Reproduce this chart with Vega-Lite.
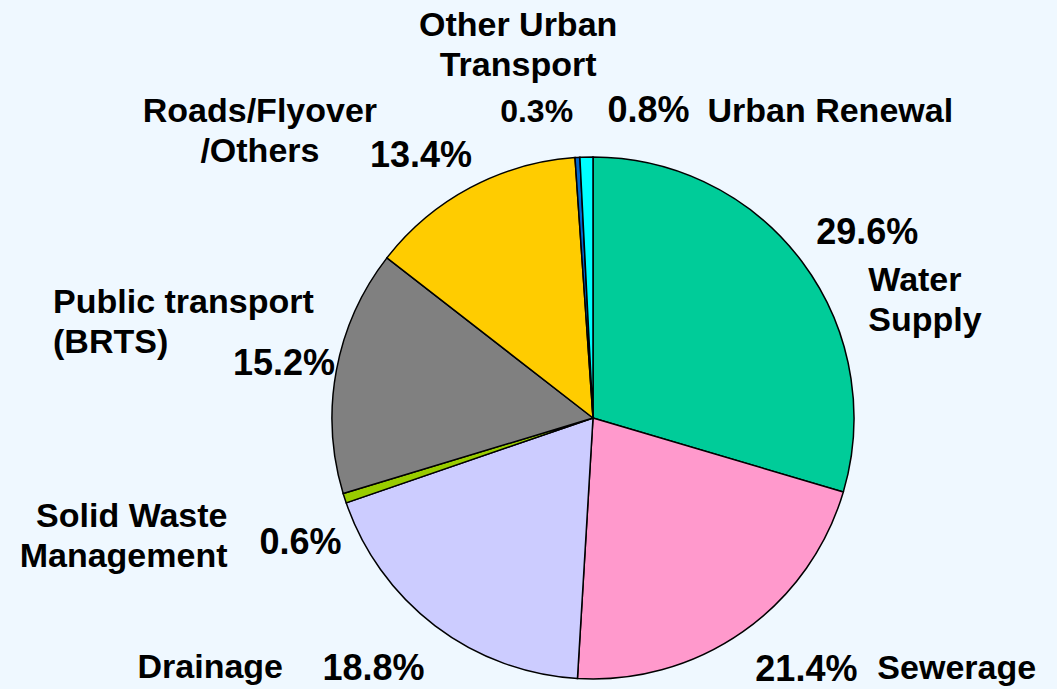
{
  "$schema": "https://vega.github.io/schema/vega-lite/v6.json",
  "width": 1186,
  "height": 836,
  "autosize": {"type": "none"},
  "padding": {"left": 0, "top": 0, "right": -129, "bottom": -147},
  "data": {
    "values": [
      {"idx": 1, "cat": "Water Supply", "value": 29.6, "pct": "29.6%", "name": "Water\nSupply"},
      {"idx": 2, "cat": "Sewerage", "value": 21.4, "pct": "21.4%", "name": "Sewerage"},
      {"idx": 3, "cat": "Drainage", "value": 18.8, "pct": "18.8%", "name": "Drainage"},
      {"idx": 4, "cat": "Solid Waste Management", "value": 0.6, "pct": "0.6%", "name": "Solid Waste\nManagement"},
      {"idx": 5, "cat": "Public transport (BRTS)", "value": 15.2, "pct": "15.2%", "name": "Public transport\n(BRTS)"},
      {"idx": 6, "cat": "Roads/Flyover/Others", "value": 13.4, "pct": "13.4%", "name": "Roads/Flyover\n/Others"},
      {"idx": 7, "cat": "Other Urban Transport", "value": 0.3, "pct": "0.3%", "name": "Other Urban\nTransport"},
      {"idx": 8, "cat": "Urban Renewal", "value": 0.8, "pct": "0.8%", "name": "Urban Renewal"}
    ]
  },
  "encoding": {
    "theta": {"field": "value", "type": "quantitative", "stack": true},
    "order": {"field": "idx", "type": "quantitative"}
  },
  "layer": [
    {
      "mark": {"type": "arc", "radius": 261, "stroke": "#000000", "strokeWidth": 1.5},
      "encoding": {
        "color": {
          "field": "cat", "type": "nominal", "legend": null,
          "scale": {
            "domain": ["Water Supply", "Sewerage", "Drainage", "Solid Waste Management", "Public transport (BRTS)", "Roads/Flyover/Others", "Other Urban Transport", "Urban Renewal"],
            "range": ["#00CC99", "#FF99CC", "#CCCCFF", "#99CC00", "#808080", "#FFCC00", "#0066CC", "#00FFFF"]
          }
        }
      }
    },
    {"mark": {"type": "text", "radius": 300, "align": "left", "dx": -17, "dy": 6, "fontSize": 36},
     "encoding": {"detail": {"field": "cat"}, "text": {"condition": {"test": "datum.idx == 1", "field": "pct"}, "value": ""}}},
    {"mark": {"type": "text", "radius": 300, "align": "left", "dx": -10, "dy": 17, "fontSize": 36},
     "encoding": {"detail": {"field": "cat"}, "text": {"condition": {"test": "datum.idx == 2", "field": "pct"}, "value": ""}}},
    {"mark": {"type": "text", "radius": 300, "align": "left", "dx": -89, "dy": 23, "fontSize": 36},
     "encoding": {"detail": {"field": "cat"}, "text": {"condition": {"test": "datum.idx == 3", "field": "pct"}, "value": ""}}},
    {"mark": {"type": "text", "radius": 300, "align": "left", "dx": -48, "dy": 44, "fontSize": 36},
     "encoding": {"detail": {"field": "cat"}, "text": {"condition": {"test": "datum.idx == 4", "field": "pct"}, "value": ""}}},
    {"mark": {"type": "text", "radius": 300, "align": "left", "dx": -65, "dy": 12, "fontSize": 36},
     "encoding": {"detail": {"field": "cat"}, "text": {"condition": {"test": "datum.idx == 5", "field": "pct"}, "value": ""}}},
    {"mark": {"type": "text", "radius": 300, "align": "left", "dx": -82, "dy": 14, "fontSize": 36},
     "encoding": {"detail": {"field": "cat"}, "text": {"condition": {"test": "datum.idx == 6", "field": "pct"}, "value": ""}}},
    {"mark": {"type": "text", "radius": 300, "align": "right", "dx": -2, "dy": 3, "fontSize": 32},
     "encoding": {"detail": {"field": "cat"}, "text": {"condition": {"test": "datum.idx == 7", "field": "pct"}, "value": ""}}},
    {"mark": {"type": "text", "radius": 300, "align": "left", "dx": 22, "dy": 4, "fontSize": 36},
     "encoding": {"detail": {"field": "cat"}, "text": {"condition": {"test": "datum.idx == 8", "field": "pct"}, "value": ""}}},
    {"mark": {"type": "text", "radius": 300, "align": "left", "dx": 35, "dy": 53},
     "encoding": {"detail": {"field": "cat"}, "text": {"condition": {"test": "datum.idx == 1", "field": "name"}, "value": ""}}},
    {"mark": {"type": "text", "radius": 300, "align": "left", "dx": 112, "dy": 15},
     "encoding": {"detail": {"field": "cat"}, "text": {"condition": {"test": "datum.idx == 2", "field": "name"}, "value": ""}}},
    {"mark": {"type": "text", "radius": 300, "align": "left", "dx": -274, "dy": 21},
     "encoding": {"detail": {"field": "cat"}, "text": {"condition": {"test": "datum.idx == 3", "field": "name"}, "value": ""}}},
    {"mark": {"type": "text", "radius": 300, "align": "right", "dx": -80, "dy": 17},
     "encoding": {"detail": {"field": "cat"}, "text": {"condition": {"test": "datum.idx == 4", "field": "name"}, "value": ""}}},
    {"mark": {"type": "text", "radius": 300, "align": "left", "dx": -245, "dy": -50},
     "encoding": {"detail": {"field": "cat"}, "text": {"condition": {"test": "datum.idx == 5", "field": "name"}, "value": ""}}},
    {"mark": {"type": "text", "radius": 300, "align": "center", "dx": -192, "dy": -31},
     "encoding": {"detail": {"field": "cat"}, "text": {"condition": {"test": "datum.idx == 6", "field": "name"}, "value": ""}}},
    {"mark": {"type": "text", "radius": 300, "align": "center", "dx": -57, "dy": -83},
     "encoding": {"detail": {"field": "cat"}, "text": {"condition": {"test": "datum.idx == 7", "field": "name"}, "value": ""}}},
    {"mark": {"type": "text", "radius": 300, "align": "left", "dx": 122, "dy": 4},
     "encoding": {"detail": {"field": "cat"}, "text": {"condition": {"test": "datum.idx == 8", "field": "name"}, "value": ""}}}
  ],
  "config": {
    "background": "#EFF8FF",
    "view": {
      "stroke": null,
      "fill": {
        "gradient": "linear", "x1": 0, "y1": 0, "x2": 1, "y2": 0,
        "stops": [
          {"offset": 0, "color": "#EFF8FF"},
          {"offset": 0.891, "color": "#CCEAFF"},
          {"offset": 1, "color": "#CCEAFF"}
        ]
      }
    },
    "text": {
      "font": "Liberation Sans",
      "fontWeight": "bold",
      "fontSize": 34,
      "lineHeight": 40,
      "lineBreak": "\n",
      "baseline": "alphabetic",
      "color": "#000000"
    }
  }
}
